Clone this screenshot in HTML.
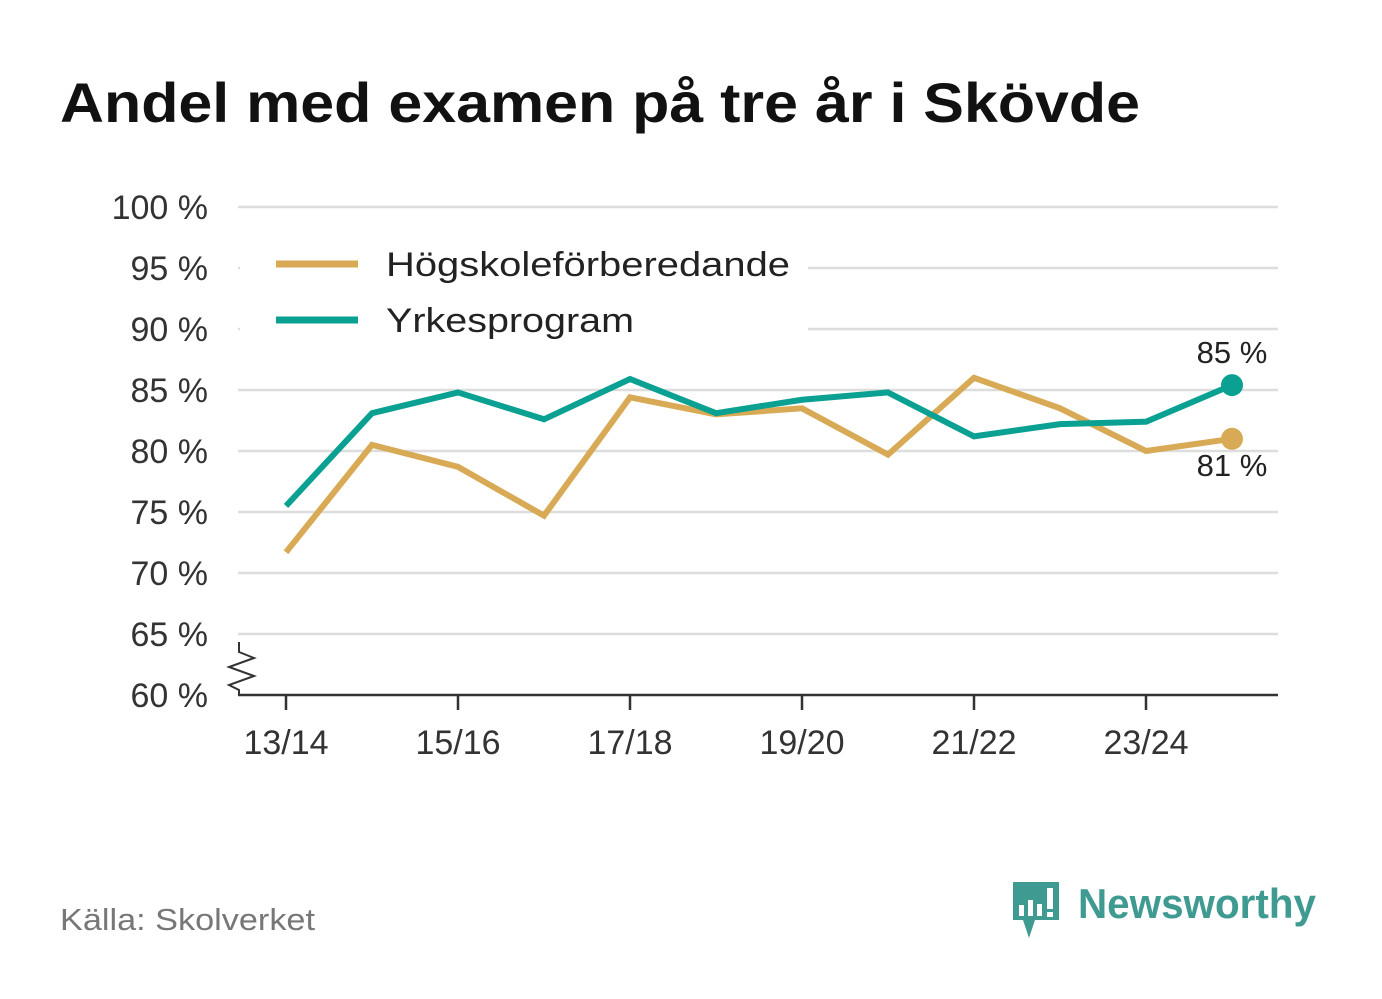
<!DOCTYPE html>
<html><head><meta charset="utf-8"><style>
body{margin:0;background:#fff;font-family:"Liberation Sans",sans-serif;}
svg{display:block}
</style></head><body>
<svg width="1382" height="999" xmlns="http://www.w3.org/2000/svg" id="chart">
<rect width="1382" height="999" fill="#fff"/>
<text x="60" y="122" font-size="56" font-weight="bold" fill="#111" textLength="1080" lengthAdjust="spacingAndGlyphs">Andel med examen på tre år i Skövde</text>
<g id="grid"></g>
<g id="yticks" font-size="34" fill="#333" text-anchor="end"></g>
<g id="xticks" font-size="34" fill="#333" text-anchor="middle"></g>
<line x1="238" y1="695" x2="1278" y2="695" stroke="#333" stroke-width="2.5"/>
<polyline points="239,642 239,652 254,658 229,667 254,676 229,685 239,690 239,695" fill="none" stroke="#333" stroke-width="2"/>
<g id="series"></g>
<g>
<rect x="240" y="238" width="568" height="112" fill="#fff"/>
<line x1="276" y1="264" x2="358" y2="264" stroke="#d8aa55" stroke-width="7"/>
<text x="386" y="276" font-size="34" fill="#222" textLength="404" lengthAdjust="spacingAndGlyphs">Högskoleförberedande</text>
<line x1="276" y1="320" x2="358" y2="320" stroke="#0aa092" stroke-width="7"/>
<text x="386" y="332" font-size="34" fill="#222" textLength="248" lengthAdjust="spacingAndGlyphs">Yrkesprogram</text>
</g>
<text x="60" y="930" font-size="31" fill="#777" textLength="255" lengthAdjust="spacingAndGlyphs">Källa: Skolverket</text>
<g>
<path d="M1013,882 h46 v38 h-24 l-6,18 l-6,-18 h-10 z" fill="#3f9a92"/>
<rect x="1019" y="905" width="5" height="11" fill="#fff"/><rect x="1028" y="900" width="5" height="16" fill="#fff"/><rect x="1037" y="904" width="5" height="12" fill="#fff"/><rect x="1047" y="888" width="6" height="21" fill="#fff"/><rect x="1047" y="912" width="6" height="5" fill="#fff"/>
<text x="1078" y="918" font-size="42" font-weight="bold" fill="#3f9a92" textLength="238" lengthAdjust="spacingAndGlyphs">Newsworthy</text>
</g>
</svg>
<script>
const categories=["13/14","14/15","15/16","16/17","17/18","18/19","19/20","20/21","21/22","22/23","23/24","24/25"];
const hogskole=[71.7,80.5,78.7,74.7,84.4,83.0,83.5,79.7,86.0,83.5,80.0,81.0];
const yrkes=[75.5,83.1,84.8,82.6,85.9,83.1,84.2,84.8,81.2,82.2,82.4,85.4];
const yTicks=[60,65,70,75,80,85,90,95,100];
const xTickLabels=["13/14","15/16","17/18","19/20","21/22","23/24"];
const NS="http://www.w3.org/2000/svg";
const xs=i=>286+i*86, ys=v=>695-(v-60)*12.2;
function mk(t,a,p){const e=document.createElementNS(NS,t);for(const k in a)e.setAttribute(k,a[k]);p.appendChild(e);return e;}
const grid=document.getElementById('grid'),yt=document.getElementById('yticks'),xt=document.getElementById('xticks'),ser=document.getElementById('series');
yTicks.forEach(v=>{
 if(v>60){const l=mk('line',{x1:238,x2:1278,y1:ys(v),y2:ys(v),stroke:'#ddd','stroke-width':2.5},grid);
 
 }
 const t=mk('text',{x:208,y:ys(v)+12},yt);t.textContent=v+' %';
 
 
});
xTickLabels.forEach(lab=>{
 const i=categories.indexOf(lab);
 const l=mk('line',{x1:xs(i),x2:xs(i),y1:695,y2:710,stroke:'#333','stroke-width':2.5},xt);
 
 
 const t=mk('text',{x:xs(i),y:754},xt);t.textContent=lab;
 
 
});
function draw(vals,color,name,labY){
 const p=mk('polyline',{points:vals.map((v,i)=>xs(i)+','+ys(v)).join(' '),fill:'none',stroke:color,'stroke-width':6,'stroke-linejoin':'miter'},ser);
 
 
 const n=vals.length-1;
 const c=mk('circle',{cx:xs(n),cy:ys(vals[n]),r:11,fill:color},ser);
 
 
 const t=mk('text',{x:xs(n),y:ys(vals[n])+labY,'font-size':31,fill:'#222','text-anchor':'middle'},ser);
 t.textContent=Math.round(vals[n])+' %';
 
 
}
draw(hogskole,'#d8aa55','hogskole',37);
draw(yrkes,'#0aa092','yrkes',-22);
</script>
</body></html>
